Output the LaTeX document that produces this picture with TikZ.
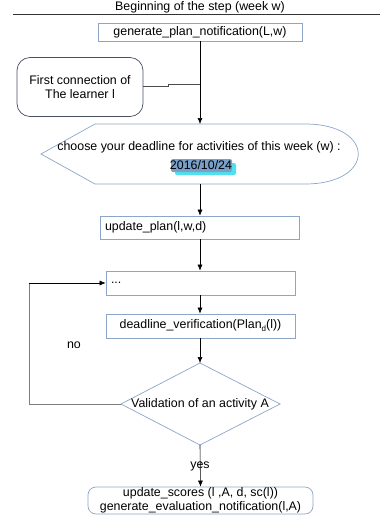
\documentclass[tikz,border=0pt]{standalone}
\usepackage{fontspec}
\setmainfont{Liberation Sans}
\usetikzlibrary{arrows.meta}
\definecolor{boxc}{RGB}{140,165,200}
\definecolor{darkc}{RGB}{70,80,95}
\definecolor{loopc}{RGB}{125,125,125}
\definecolor{hlblue}{RGB}{120,160,200}
\definecolor{hlcyan}{RGB}{80,225,240}
\begin{document}
\begin{tikzpicture}[x=1pt,y=-1pt,
  every node/.style={font=\fontsize{12.4}{14}\selectfont, inner sep=0pt},
  box/.style={draw=boxc, line width=0.7pt, fill=white},
  arr/.style={-{Latex[length=6pt,width=5pt]}, line width=0.6pt, black}]
\useasboundingbox (0,0) rectangle (380,520);
% title
\node (title) at (200,7) {Beginning of the step (week w)};
\coordinate (tl) at (13,14);
\coordinate (tr) at (380,14);
\draw[line width=0.6pt, black!80] (tl) -- (tr);
% boxes
\node[box, minimum width=204pt, minimum height=18pt] (gen) at (200,32) {generate\_plan\_notification(L,w)};
\node[draw=darkc, line width=0.7pt, rounded corners=13pt, minimum width=126pt, minimum height=59pt, align=center, font=\fontsize{12.4}{14.5}\selectfont] (first) at (80,87) {First connection of\\ The learner l};
% display shape
\coordinate (dtop) at (200,124);
\coordinate (dbot) at (200,184);
\draw[boxc, line width=0.7pt] (95,124) -- (305,124) .. controls (376,124) and (376,184) .. (305,184) -- (95,184) -- (41,154) -- cycle;
\node (disp) at (199,147) {choose your deadline for activities of this week (w) :};
\fill[hlcyan, rounded corners=2pt] (175,163) rectangle (236,175);
\fill[hlblue, rounded corners=2pt] (171,159) rectangle (232,172);
\node (date) at (201,165) {2016/10/24};
\node[box, minimum width=199pt, minimum height=23pt, text width=189pt, align=left] (upd) at (199.5,227.5) {update\_plan(l,w,d)};
\node[box, minimum width=189pt, minimum height=24pt, text width=179pt, align=left] (dots) at (200.5,283) {...};
\node[box, minimum width=189pt, minimum height=24pt] (ver) at (200.5,326) {deadline\_verification(Plan\raisebox{-0.45ex}{\fontsize{8}{8}\selectfont d}(l))};
\draw[boxc, line width=0.7pt, fill=white] (200,363) coordinate (vtop) -- (280,404) coordinate (vright) -- (200,445) coordinate (vbot) -- (121,404) coordinate (vleft) -- cycle;
\node (val) at (200,404) {Validation of an activity A};
\node[box, rounded corners=8pt, minimum width=225pt, minimum height=27pt, align=center, font=\fontsize{12.4}{13.5}\selectfont] (fin) at (200.5,500.5) {update\_scores (l ,A, d, sc(l))\\generate\_evaluation\_notification(l,A)};
% connectors
\coordinate (c1) at (168,86);
\coordinate (c2) at (168,84);
\coordinate (c3) at (200,84);
\draw[black!70, line width=0.6pt] (first.east |- 0,86) -- (c1) -- (c2) -- (c3);
\draw[arr] (gen.south) -- (dtop);
\draw[arr] (dbot) -- (upd.north -| dbot);
\draw[arr] (upd.south -| dbot) -- (dots.north -| dbot);
\draw[arr] (dots.south -| dbot) -- (ver.north -| dbot);
\draw[arr] (ver.south -| dbot) -- (vtop);
\coordinate (l1) at (29,404);
\coordinate (l2) at (29,283);
\draw[loopc, line width=0.8pt] (vleft) -- (l1) -- (l2);
\draw[arr] (l2) -- (dots.west);
\node (no) at (74,345) {no};
\draw[arr] (vbot) -- (fin.north);
\node (yes) at (200,466) {yes};
\end{tikzpicture}
\end{document}
